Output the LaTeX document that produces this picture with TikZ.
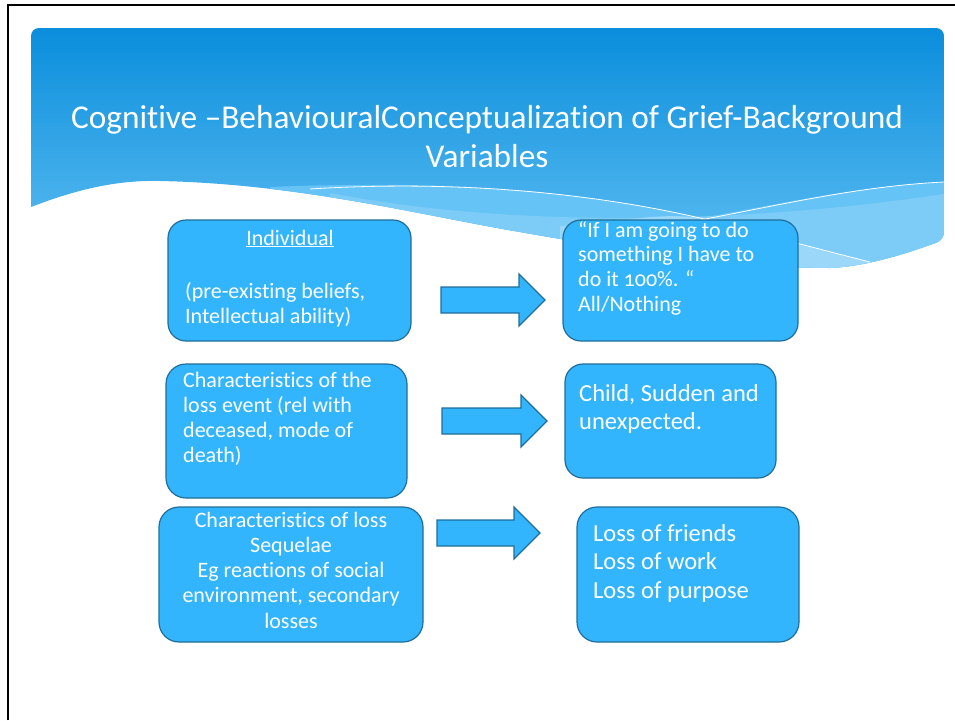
\documentclass[tikz,border=0pt]{standalone}
\usepackage{fontspec}
\setmainfont{Carlito}[Numbers=OldStyle, Ligatures=NoCommon]
\definecolor{boxfill}{HTML}{33B5FD}
\definecolor{boxedge}{HTML}{1F6E9A}
\definecolor{hdrtop}{HTML}{0A8EDC}
\definecolor{hdrbot}{HTML}{62C0F3}
\definecolor{bandone}{HTML}{66C3F5}
\definecolor{bandtwo}{HTML}{7DCCF7}
\definecolor{bandthree}{HTML}{9AD7F9}
\newcommand{\smallbox}{\fontsize{22}{25}\selectfont}
\newcommand{\bigbox}{\fontsize{24.5}{28.7}\selectfont}
\begin{document}
\begin{tikzpicture}[x=1pt,y=-1pt,
  box/.style={draw=boxedge, line width=1.2pt, fill=boxfill, rounded corners=18pt, inner sep=0pt},
  blockarrow/.style={draw=boxedge, line width=1.2pt, fill=boxfill, line join=miter},
  txt/.style={text=white, inner sep=0pt, anchor=base west},
  ctxt/.style={text=white, inner sep=0pt, anchor=base},
  titletxt/.style={text=white, inner sep=0pt, anchor=base, font=\fontsize{33.3}{38}\selectfont},
  wline/.style={draw=white, line width=0.8pt}
]
\useasboundingbox (0,0) rectangle (955,720);
% outer frame
\draw[line width=2.5pt] (8,720) -- (8,5) -- (955,5);
% header
\begin{scope}
\clip (31,207) {[rounded corners=8pt] -- (31,28) -- (944,28) -- (944,240)}
  .. controls (910,252) and (870,266) .. (830,268)
  .. controls (760,268) and (650,255) .. (520,232)
  .. controls (420,215) and (300,184) .. (160,181)
  .. controls (120,180) and (80,188) .. (31,207) -- cycle;
\shade[top color=hdrtop, bottom color=hdrbot] (31,28) rectangle (944,275);
\fill[bandone] (270,187) .. controls (420,181) and (560,186) .. (700,218) .. controls (780,204) and (860,186) .. (944,182) -- (944,290) -- (270,290) -- cycle;
\fill[bandtwo] (330,193) .. controls (520,230) and (760,222) .. (944,194) -- (944,290) -- (330,290) -- cycle;
\fill[bandthree] (560,226) .. controls (620,222) and (660,212) .. (700,218) .. controls (770,236) and (830,252) .. (870,262) -- (944,250) -- (944,290) -- (560,290) -- cycle;
\draw[wline] (310,189) .. controls (420,182) and (560,186) .. (700,218) .. controls (770,236) and (830,252) .. (870,262);
\draw[wline] (700,220) .. controls (780,205) and (860,186) .. (944,182);
\end{scope}
% title
\node[titletxt] (title1) at (487,128) {Cognitive –BehaviouralConceptualization of Grief-Background};
\node[titletxt] (title2) at (487,167) {Variables};
% boxes
\node[box, minimum width=243pt, minimum height=121pt] (ind) at (289.5,280.5) {};
\node[box, minimum width=235pt, minimum height=121pt] (allnot) at (680.5,280.5) {};
\node[box, minimum width=241pt, minimum height=134pt, rounded corners=20pt] (event) at (286.5,431) {};
\node[box, minimum width=211pt, minimum height=114pt] (child) at (670.5,421) {};
\node[box, minimum width=264pt, minimum height=135pt, rounded corners=20pt] (seq) at (291,574.5) {};
\node[box, minimum width=222pt, minimum height=135pt, rounded corners=20pt] (losses) at (688,574.5) {};
% block arrows
\draw[blockarrow] (441,287) -- (519,287) -- (519,274) -- (545,300) -- (519,326) -- (519,313) -- (441,313) -- cycle;
\draw[blockarrow] (442,408) -- (521,408) -- (521,395) -- (547,421) -- (521,447) -- (521,434) -- (442,434) -- cycle;
\draw[blockarrow] (437,520) -- (514,520) -- (514,507) -- (540,533) -- (514,559) -- (514,546) -- (437,546) -- cycle;
% texts
\node[ctxt, font=\smallbox] (indtitle) at (290,245) {\underline{Individual}};
\node[txt] (indbody) at (185,298) {\parbox[t]{220pt}{\smallbox (pre-existing beliefs,\\Intellectual ability)}};
\node[txt] (allnottext) at (578,237) {\parbox[t]{220pt}{\fontsize{22}{24.7}\selectfont “If I am going to do\\something I have to\\do it 100\%. “\\All/Nothing}};
\node[txt] (eventtext) at (183,387) {\parbox[t]{220pt}{\smallbox Characteristics of the\\loss event (rel with\\deceased, mode of\\death)}};
\node[txt] (childtext) at (579,401) {\parbox[t]{200pt}{\bigbox Child, Sudden and\\unexpected.}};
\node[ctxt] (seqtext) at (291,527) {\parbox[t]{260pt}{\centering\fontsize{22}{25.3}\selectfont Characteristics of loss\\Sequelae\\Eg reactions of social\\environment, secondary\\losses}};
\node[txt] (lossestext) at (593,541) {\parbox[t]{210pt}{\bigbox Loss of friends\\Loss of work\\Loss of purpose}};
\end{tikzpicture}
\end{document}
